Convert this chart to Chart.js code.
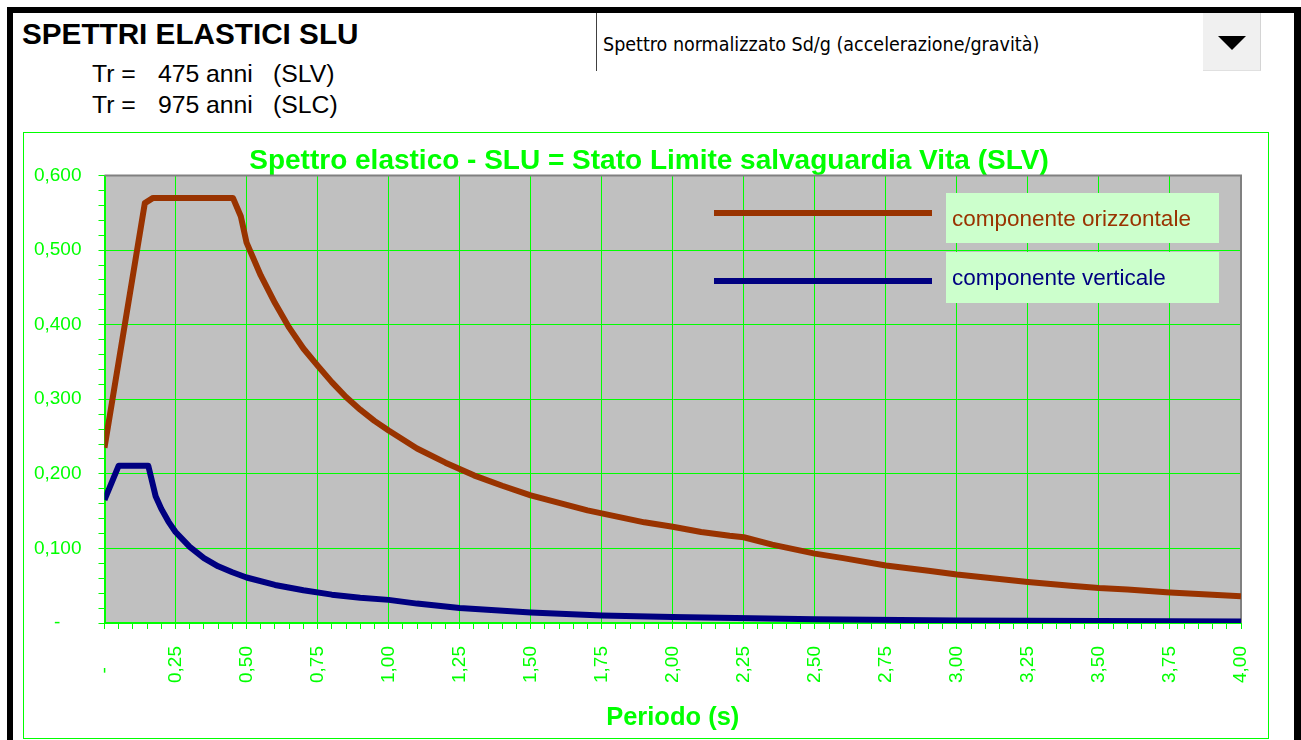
<!DOCTYPE html>
<html><head><meta charset="utf-8">
<script src="https://cdn.jsdelivr.net/npm/chart.js@4.4.0/dist/chart.umd.min.js"></script>
<style>
html,body{margin:0;padding:0;background:#fff;}
#page{position:relative;width:1301px;height:740px;overflow:hidden;background:#fff;font-family:"Liberation Sans",Arial,sans-serif;}
.abs{position:absolute;white-space:pre;}
#chartBox{position:absolute;left:23px;top:132px;width:1244px;height:605px;border:1px solid #00FF00;}
#chartBox canvas{display:block;position:absolute;left:0;top:0;}
.legLine{position:absolute;left:714px;width:218px;height:6px;}
.legBox{position:absolute;left:946px;width:273px;background:#CCFFCC;font-size:22.5px;line-height:23px;}
.legBox span{position:absolute;left:6px;}
.tr{font-size:24.8px;line-height:24px;color:#000;}
</style></head><body>
<div id="page">
  <div class="abs" style="left:7px;top:7px;width:1294px;height:6px;background:#000"></div>
  <div class="abs" style="left:7px;top:7px;width:6px;height:733px;background:#000"></div>
  <div class="abs" style="left:1294px;top:7px;width:7px;height:733px;background:#000"></div>

  <div class="abs" style="left:22px;top:19px;font-size:29.7px;line-height:30px;font-weight:bold;color:#000">SPETTRI ELASTICI SLU</div>
  <div class="abs tr" style="left:92px;top:62px">Tr =</div>
  <div class="abs tr" style="left:158px;top:62px">475</div>
  <div class="abs tr" style="left:206px;top:62px">anni</div>
  <div class="abs tr" style="left:273px;top:62px">(SLV)</div>
  <div class="abs tr" style="left:92px;top:93px">Tr =</div>
  <div class="abs tr" style="left:158px;top:93px">975</div>
  <div class="abs tr" style="left:206px;top:93px">anni</div>
  <div class="abs tr" style="left:273px;top:93px">(SLC)</div>

  <div class="abs" style="left:596px;top:13px;width:1px;height:58px;background:#404040"></div>
  <div class="abs" style="left:603px;top:34px;font-family:'DejaVu Sans Condensed','DejaVu Sans',sans-serif;font-size:19.5px;line-height:22px;color:#000">Spettro normalizzato Sd/g (accelerazione/gravità)</div>
  <div class="abs" style="left:1203px;top:13px;width:57px;height:57px;background:#F0F0F0;border-right:1px solid #D4D4D4;border-bottom:1px solid #E0E0E0"></div>
  <div class="abs" style="left:1218px;top:36px;width:0;height:0;border-left:14px solid transparent;border-right:14px solid transparent;border-top:14px solid #000"></div>

  <div id="chartBox"><canvas id="c" width="1250" height="605"></canvas></div>

  <div class="legLine" style="top:210px;background:#993300"></div>
  <div class="legLine" style="top:278px;background:#000080"></div>
  <div class="legBox" style="top:193px;height:50px;color:#993300"><span style="top:14px">componente orizzontale</span></div>
  <div class="legBox" style="top:252px;height:51px;color:#000080"><span style="top:14px">componente verticale</span></div>
</div>
<script>
// ---- data ----
const periodsOriz = [0, 0.142, 0.171, 0.452, 0.48, 0.50, 0.55, 0.60, 0.65, 0.70, 0.75, 0.80, 0.85, 0.90, 0.95, 1.00, 1.10, 1.20, 1.30, 1.40, 1.50, 1.60, 1.70, 1.80, 1.90, 2.00, 2.10, 2.20, 2.25, 2.35, 2.50, 2.60, 2.75, 2.90, 3.00, 3.10, 3.25, 3.40, 3.50, 3.60, 3.75, 3.90, 4.00];
const valuesOriz  = [0.235, 0.563, 0.570, 0.570, 0.545, 0.510, 0.466, 0.429, 0.396, 0.368, 0.345, 0.323, 0.303, 0.286, 0.271, 0.258, 0.234, 0.215, 0.198, 0.184, 0.171, 0.161, 0.151, 0.143, 0.135, 0.129, 0.122, 0.117, 0.115, 0.105, 0.093, 0.087, 0.077, 0.070, 0.065, 0.061, 0.055, 0.050, 0.047, 0.045, 0.041, 0.038, 0.036];
const periodsVert = [0, 0.05, 0.154, 0.18, 0.20, 0.225, 0.25, 0.30, 0.35, 0.40, 0.45, 0.50, 0.60, 0.70, 0.80, 0.90, 1.00, 1.10, 1.25, 1.50, 1.75, 2.00, 2.50, 3.00, 3.50, 4.00];
const valuesVert  = [0.165, 0.211, 0.211, 0.170, 0.153, 0.136, 0.122, 0.102, 0.087, 0.076, 0.068, 0.061, 0.051, 0.044, 0.038, 0.034, 0.031, 0.026, 0.020, 0.014, 0.010, 0.008, 0.005, 0.0035, 0.0026, 0.002];
const seriesNames = ['componente orizzontale', 'componente verticale'];
const xTickLabels = ['-\u2007\u2007','0,25','0,50','0,75','1,00','1,25','1,50','1,75','2,00','2,25','2,50','2,75','3,00','3,25','3,50','3,75','4,00'];
const yTickLabels = ['-\u2007\u2007','0,100','0,200','0,300','0,400','0,500','0,600'];
const chartTitle = 'Spettro elastico - SLU = Stato Limite salvaguardia Vita (SLV)';
const xAxisTitle = 'Periodo (s)';

const GREEN = '#00FF00';
const FONT = "'Liberation Sans', Arial, sans-serif";
const NONE = 'rgba(0,0,0,0)';
const toXY = (xs, ys) => xs.map((x, i) => ({x: x, y: ys[i]}));

const plotFrame = {
  id: 'plotFrame',
  beforeDraw(chart) {
    const {ctx, chartArea: a} = chart;
    ctx.save();
    ctx.fillStyle = '#C0C0C0';
    ctx.fillRect(a.left, a.top, a.right - a.left, a.bottom - a.top);
    ctx.restore();
  },
  beforeDatasetsDraw(chart) {
    const {ctx, chartArea: a} = chart;
    ctx.save();
    ctx.strokeStyle = '#808080';
    ctx.lineWidth = 2;
    ctx.beginPath();
    ctx.moveTo(a.left, a.top);
    ctx.lineTo(a.right, a.top);
    ctx.lineTo(a.right, a.bottom);
    ctx.stroke();
    ctx.restore();
  }
};

new Chart(document.getElementById('c'), {
  type: 'scatter',
  data: {
    datasets: [
      {label: seriesNames[0], data: toXY(periodsOriz, valuesOriz), borderColor: '#993300', backgroundColor: '#993300'},
      {label: seriesNames[1], data: toXY(periodsVert, valuesVert), borderColor: '#000080', backgroundColor: '#000080'}
    ]
  },
  options: {
    responsive: false,
    animation: false,
    devicePixelRatio: 1,
    showLine: true,
    elements: {
      point: {radius: 0, hoverRadius: 0},
      line: {borderWidth: 6, tension: 0, fill: false, borderJoinStyle: 'round', borderCapStyle: 'butt'}
    },
    layout: {padding: 0},
    plugins: {
      legend: {display: false},
      tooltip: {enabled: false},
      title: {
        display: true, text: chartTitle, color: GREEN,
        font: {family: FONT, size: 28, weight: 'bold', lineHeight: 1},
        padding: {top: 14.5, bottom: 0}
      }
    },
    scales: {
      x: {
        type: 'linear', min: 0, max: 4,
        afterFit(s) { s.height = 115; s.paddingLeft = 0; s.paddingRight = 33; },
        border: {color: GREEN, width: 2},
        grid: {
          color(ctx) { const k = Math.round((ctx.tick ? ctx.tick.value : 0) * 20); return (k % 5 === 0 && k > 0 && k < 80) ? GREEN : NONE; },
          tickColor: GREEN, tickLength: 6, lineWidth: 1, tickWidth: 1
        },
        ticks: {
          stepSize: 0.05, autoSkip: false, maxTicksLimit: 200, minRotation: 90, maxRotation: 90,
          padding: 17, color: GREEN, font: {family: FONT, size: 19},
          callback(v) { const k = Math.round(v * 20); return k % 5 === 0 ? xTickLabels[k / 5] : ''; }
        },
        title: {
          display: true, text: xAxisTitle, color: GREEN,
          font: {family: FONT, size: 25.5, weight: 'bold', lineHeight: 1.2},
          padding: {top: 0, bottom: 5}
        }
      },
      y: {
        type: 'linear', min: 0, max: 0.6,
        afterFit(s) { s.width = 80.5; s.paddingTop = 0; s.paddingBottom = 0; },
        border: {color: GREEN, width: 2},
        grid: {
          color(ctx) { const k = Math.round((ctx.tick ? ctx.tick.value : 0) * 50); return (k % 5 === 0 && k > 0 && k < 30) ? GREEN : NONE; },
          tickColor: GREEN, tickLength: 6, lineWidth: 1, tickWidth: 1
        },
        ticks: {
          stepSize: 0.02, autoSkip: false, maxTicksLimit: 200,
          padding: 17, color: GREEN, font: {family: FONT, size: 19},
          callback(v) { const k = Math.round(v * 50); return k % 5 === 0 ? yTickLabels[k / 5] : ''; }
        }
      }
    }
  },
  plugins: [plotFrame]
});
</script>
</body></html>
